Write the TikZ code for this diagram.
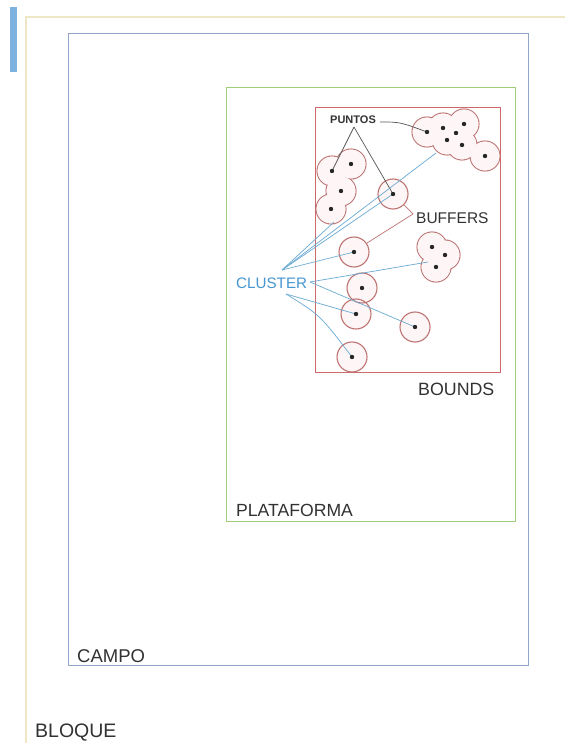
\documentclass[tikz,border=0pt]{standalone}
\usepackage{fontspec}
\setmainfont{Liberation Sans}
\definecolor{bloqueC}{RGB}{238,230,196}
\definecolor{barC}{RGB}{125,178,222}
\definecolor{campoC}{RGB}{145,165,200}
\definecolor{platC}{RGB}{160,205,120}
\definecolor{boundC}{RGB}{205,105,105}
\definecolor{bufC}{RGB}{190,115,115}
\definecolor{bufFill}{RGB}{254,246,246}
\definecolor{txtC}{RGB}{50,50,50}
\definecolor{clusC}{RGB}{70,150,210}
\definecolor{clusLine}{RGB}{105,170,210}
\definecolor{ptLine}{RGB}{85,85,85}
\begin{document}
\begin{tikzpicture}[x=1pt,y=-1pt,
  lbl/.style={inner sep=0pt, text=txtC, anchor=west},
  pt/.style={circle, fill=black!85, inner sep=0pt, minimum size=4.4pt},
  bufring/.style={draw=bufC, line width=1.1pt},
  buffill/.style={fill=bufFill},
  clusline/.style={draw=clusLine, line width=0.7pt},
  ptline/.style={draw=ptLine, line width=0.7pt},
  bufline/.style={draw=bufC, line width=0.7pt}]
\useasboundingbox (0,0) rectangle (564,743);
\fill[white] (0,0) rectangle (564,743);
% BLOQUE frame
\draw[bloqueC, line width=1.2pt] (570,17) -- (26,17) -- (26,745);
\fill[barC] (10,7) rectangle (16.5,72);
% CAMPO
\draw[campoC, line width=1pt] (68,34) rectangle (528,665);
% PLATAFORMA
\draw[platC, line width=1pt] (226,88) rectangle (515,521);
% BOUNDS
\draw[boundC, line width=0.9pt] (315,107) rectangle (500,372);

% points
\foreach \n/\x/\y in {a1/427/132,a2/443/128,a3/464/124,a4/456/133,a5/447/140,a6/462/145,a7/485/156,
  b1/332/171,b2/351/164,b3/341/191,b4/331/209,c/393/194,d/354/252,
  e1/432/247,e2/445/255,e3/436/267,f/362/288,g/356/314,h/415/327,k/352/357}
  \coordinate (\n) at (\x,\y);

% buffer unions: rings then fills
\foreach \n in {a1,a2,a3,a4,a5,a6,a7,b1,b2,b3,b4,e1,e2,e3}
  \draw[bufring] (\n) circle (15);
\foreach \n in {a1,a2,a3,a4,a5,a6,a7,b1,b2,b3,b4,e1,e2,e3}
  \fill[buffill] (\n) circle (14.45);
\foreach \n in {c,d,f,g,h,k}
  \fill[buffill] (\n) circle (15);
\foreach \n in {c,d,f,g,h,k}
  \draw[bufring] (\n) circle (15);

% labels
\node[lbl, font=\fontsize{11}{12}\selectfont\bfseries, text=black!80] (puntos) at (330,120) {PUNTOS};
\node[lbl, font=\fontsize{15.5}{17}\selectfont] (buffers) at (416,218) {BUFFERS};
\node[lbl, font=\fontsize{15.2}{17}\selectfont, text=clusC] (cluster) at (236,283) {CLUSTER};
\node[lbl, font=\fontsize{17.8}{20}\selectfont] (bounds) at (418,389) {BOUNDS};
\node[lbl, font=\fontsize{17.6}{20}\selectfont] (plat) at (236,510) {PLATAFORMA};
\node[lbl, font=\fontsize{18.5}{20}\selectfont] (campo) at (77,656) {CAMPO};
\node[lbl, font=\fontsize{19.5}{21}\selectfont] (bloque) at (35,733) {BLOQUE};

% connector end points
\coordinate (ct) at (282,270);
\coordinate (cr) at (310,282);
\coordinate (cb) at (286,294);
\coordinate (pb) at (354,127);
\coordinate (pr) at (380,122);
\coordinate (bf) at (413,214);
\coordinate (bEdge) at (334,222);
\coordinate (aEdge) at (436,153);
\coordinate (eEdge) at (428,262);
\coordinate (cEdge) at (404,205);
\coordinate (dEdge) at (367,243);

% PUNTOS lines
\draw[ptline] (pb) -- (b1);
\draw[ptline] (pb) -- (c);
\draw[ptline] (pr) .. controls (400,122) .. (a1);
% BUFFERS lines
\draw[bufline] (bf) -- (cEdge);
\draw[bufline] (bf) -- (dEdge);
% CLUSTER lines
\draw[clusline] (ct) -- (bEdge);
\draw[clusline] (ct) -- (c);
\draw[clusline] (ct) -- (aEdge);
\draw[clusline] (ct) -- (d);
\draw[clusline] (cr) -- (eEdge);
\draw[clusline] (cr) -- (h);
\draw[clusline] (cb) -- (g);
\draw[clusline] (cb) .. controls (320,315) .. (k);

% dots
\foreach \n in {a1,a2,a3,a4,a5,a6,a7,b1,b2,b3,b4,c,d,e1,e2,e3,f,g,h,k}
  \node[pt] (p\n) at (\n) {};
\end{tikzpicture}
\end{document}
